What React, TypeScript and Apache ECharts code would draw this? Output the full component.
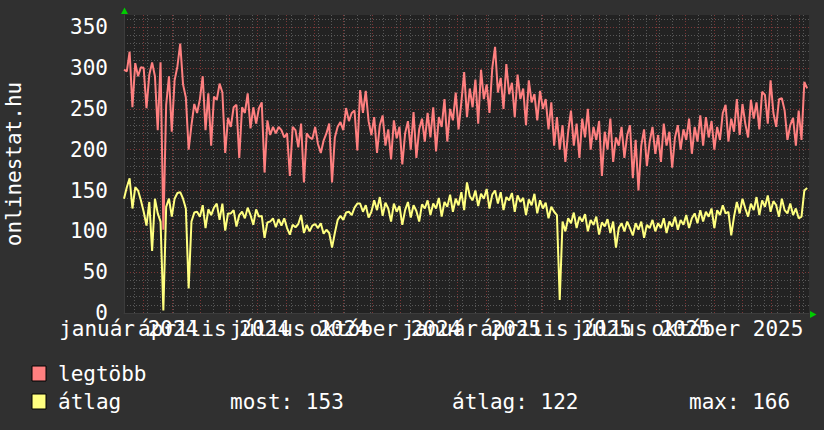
import React, { useEffect, useRef } from "react";
import * as echarts from "echarts";

const FONT = "DejaVu Sans Mono";
const START_UTC = Date.UTC(2023, 11, 11);
const SPAN_DAYS = 731;
const STEP_DAYS = 3;
const LABEL_SHIFT_DAYS = 16;

const quarterLabels = [
  "január 2024", "április 2024", "július 2024", "október 2024",
  "január 2025", "április 2025", "július 2025", "október 2025",
];
const quarterDates: [number, number][] = [
  [2024, 0], [2024, 3], [2024, 6], [2024, 9],
  [2025, 0], [2025, 3], [2025, 6], [2025, 9],
];
const yTickValues = [0, 50, 100, 150, 200, 250, 300, 350];
const seriesNames = ["legtöbb", "átlag"];
const statTexts = ["most: 153", "átlag: 122", "max: 166"];

const legtobb = [
  298, 296, 320, 252, 306, 290, 301, 300, 251, 292,
  307, 290, 224, 307, 102, 255, 290, 222, 285, 302,
  330, 280, 264, 200, 230, 256, 245, 262, 290, 224,
  269, 205, 265, 261, 281, 270, 196, 239, 228, 252,
  255, 190, 252, 245, 269, 226, 252, 232, 251, 258,
  172, 236, 218, 228, 220, 228, 224, 215, 220, 168,
  228, 224, 203, 232, 160, 220, 215, 213, 228, 207,
  196, 211, 220, 232, 160, 215, 228, 234, 224, 251,
  235, 245, 248, 199, 273, 245, 272, 235,
  218, 240, 196, 230, 242, 205, 225, 188, 236, 214,
  228, 182, 220, 235, 200, 246, 190, 225, 238, 210,
  245, 215, 252, 198, 240, 228, 262, 210, 250, 236,
  270, 225, 258, 295, 240, 275, 252, 286, 232, 298,
  262, 280, 245, 300, 326, 270, 288, 250, 305, 268,
  282, 240, 292, 262, 275, 230, 285, 258, 268, 236,
  272, 250, 262, 225, 258, 205, 240, 200, 230, 185,
  222, 248, 205, 232, 190, 238, 215, 250, 200, 228,
  212, 235, 168, 222, 200, 238, 185, 215, 205, 228,
  190, 218, 230, 165, 212, 150, 205, 225, 180, 210,
  228, 195, 218, 185, 232, 205, 222, 178, 215, 230,
  200, 225, 212, 238, 195, 228, 210, 242, 205, 240,
  215, 235, 200, 228, 212, 245, 255, 210, 238, 222,
  262, 218, 256, 232, 215, 261, 238, 258, 225, 271,
  267, 232, 285, 245, 228, 262, 263, 248, 212, 230,
  239, 205, 248, 212, 283, 275,
];

const atlag = [
  140, 154, 165, 128, 154, 150, 138, 124, 107, 136,
  76, 140, 122, 112, 3, 130, 140, 118, 140, 147,
  148, 140, 128, 30, 112, 123, 124, 118, 132, 104,
  127, 120, 129, 134, 114, 134, 101, 122, 122, 126,
  106, 120, 124, 116, 129, 120, 108, 127, 118, 119,
  92, 111, 112, 116, 105, 115, 107, 116, 104, 96,
  108, 105, 109, 120, 98, 108, 100, 107, 109, 104,
  110, 97, 102, 98, 80, 98, 114, 119, 114, 123,
  124, 120, 129, 134, 134, 124, 132, 117,
  124, 138, 126, 142, 119, 135, 128, 112, 134, 124,
  131, 108, 126, 136, 117, 132, 125, 112, 133, 128,
  138, 120, 134, 128, 141, 118, 136, 130, 145, 124,
  140, 132, 148, 126, 160, 143, 138, 150, 131, 146,
  140, 152, 128, 145, 150, 134, 148, 126, 142, 138,
  147, 124, 144, 136, 141, 120, 139, 132, 146, 122,
  138, 128, 135, 116, 130, 124, 120, 16, 112, 100,
  116, 110, 123, 104, 118, 112, 121, 100, 114, 108,
  118, 96, 111, 106, 115, 98, 112, 80, 104, 110,
  100, 112, 104, 95, 110, 102, 112, 92, 108, 104,
  114, 100, 110, 104, 116, 98, 112, 106, 118, 102,
  114, 108, 120, 104, 116, 122, 110, 126, 112, 124,
  118, 128, 104, 126, 120, 132, 122, 124, 95, 118,
  136, 122, 140, 128, 118, 134, 126, 142, 120, 138,
  130, 144, 124, 137, 132, 118, 140, 126, 122, 134,
  120, 128, 116, 118, 150, 153,
];

const dayOf = (y: number, m: number, d = 1) => (Date.UTC(y, m, d) - START_UTC) / 86400000;

export default function App() {
  const ref = useRef<HTMLDivElement>(null);
  useEffect(() => {
    if (!ref.current) return;
    const chart = echarts.init(ref.current, undefined, { renderer: "svg" });

    const monthStarts: number[] = [];
    for (let y = 2024; y <= 2025; y++) {
      for (let m = 0; m < 12; m++) {
        const d = dayOf(y, m);
        if (d >= 0 && d <= SPAN_DAYS) monthStarts.push(d);
      }
    }
    const biweekly: number[] = [];
    for (let d = 11; d <= SPAN_DAYS; d += 14) biweekly.push(d);
    const minorY: number[] = [];
    for (let v = 0; v <= 360; v += 10) minorY.push(v);

    const labelPos = quarterDates.map(([y, m]) => dayOf(y, m) - LABEL_SHIFT_DAYS);
    const labelFor = (v: number) => {
      let best = 0;
      labelPos.forEach((p, i) => {
        if (Math.abs(p - v) < Math.abs(labelPos[best] - v)) best = i;
      });
      return quarterLabels[best];
    };

    const minorLine = { color: "#585858", type: [1, 2], width: 1 };
    const majorLine = { color: "#7c3636", type: [1, 2], width: 1 };

    const toPairs = (arr: number[]) => arr.map((v, i) => [i * STEP_DAYS, v]);
    const font = `21px '${FONT}'`;

    const labelAxis = (values: number[]) => ({
      type: "value", min: 0, max: SPAN_DAYS, position: "bottom",
      axisLine: { show: false },
      axisTick: { show: false, customValues: values },
      axisLabel: {
        show: true, customValues: values, formatter: (v: number) => labelFor(v),
        color: "#ffffff", fontFamily: FONT, fontSize: 21, margin: 5,
        hideOverlap: false, showMinLabel: true, showMaxLabel: true,
      },
      splitLine: { show: false },
    });

    chart.setOption({
      animation: false,
      backgroundColor: "#303030",
      textStyle: { fontFamily: FONT },
      grid: {
        left: 124, top: 15, width: 685, height: 298,
        show: true, backgroundColor: "#222222", borderWidth: 0,
      },
      xAxis: [
        {
          type: "value", min: 0, max: SPAN_DAYS, position: "bottom",
          axisLine: { show: false },
          axisTick: { show: false, customValues: biweekly },
          axisLabel: { show: false },
          splitLine: { show: true, lineStyle: minorLine },
        },
        {
          type: "value", min: 0, max: SPAN_DAYS, position: "bottom",
          axisLine: { show: true, lineStyle: { color: "#3c3c3c", width: 1 } },
          axisTick: { show: false, customValues: monthStarts },
          axisLabel: { show: false },
          splitLine: { show: true, lineStyle: majorLine },
        },
        labelAxis(labelPos.filter((_, i) => i % 2 === 0)),
        labelAxis(labelPos.filter((_, i) => i % 2 === 1)),
      ],
      yAxis: [
        {
          type: "value", min: 0, max: 365, position: "left",
          axisLine: { show: false },
          axisTick: { show: false, customValues: minorY },
          axisLabel: { show: false },
          splitLine: { show: true, lineStyle: minorLine },
        },
        {
          type: "value", min: 0, max: 365, position: "left",
          axisLine: { show: true, lineStyle: { color: "#3c3c3c", width: 1 } },
          axisTick: { show: false, customValues: yTickValues },
          axisLabel: {
            show: true, customValues: yTickValues, showMinLabel: true, showMaxLabel: true,
            color: "#ffffff", fontFamily: FONT, fontSize: 21, margin: 16,
          },
          splitLine: { show: true, lineStyle: majorLine },
        },
      ],
      series: [
        {
          name: seriesNames[0], type: "line", xAxisIndex: 1, yAxisIndex: 1,
          data: toPairs(legtobb), showSymbol: false,
          lineStyle: { color: "#ff8080", width: 2 }, itemStyle: { color: "#ff8080" },
        },
        {
          name: seriesNames[1], type: "line", xAxisIndex: 1, yAxisIndex: 1,
          data: toPairs(atlag), showSymbol: false,
          lineStyle: { color: "#ffff80", width: 2 }, itemStyle: { color: "#ffff80" },
        },
      ],
      graphic: [
        {
          type: "text", x: 14, y: 164, rotation: Math.PI / 2,
          style: {
            text: "onlinestat.hu", fill: "#ffffff", font,
            align: "center", verticalAlign: "middle",
          },
        },
        { type: "polygon", shape: { points: [[121, 14], [128, 14], [124.5, 7.5]] }, style: { fill: "#00cc00" } },
        { type: "polygon", shape: { points: [[810, 311], [810, 318], [816.5, 314.5]] }, style: { fill: "#00cc00" } },
        { type: "rect", shape: { x: 32, y: 366, width: 14, height: 15 }, style: { fill: "#ff8080", stroke: "#000000", lineWidth: 1 } },
        { type: "rect", shape: { x: 32, y: 394, width: 14, height: 15 }, style: { fill: "#ffff80", stroke: "#000000", lineWidth: 1 } },
        { type: "text", x: 58, y: 374, style: { text: seriesNames[0], fill: "#ffffff", font, verticalAlign: "middle" } },
        { type: "text", x: 58, y: 402, style: { text: seriesNames[1], fill: "#ffffff", font, verticalAlign: "middle" } },
        { type: "text", x: 230, y: 402, style: { text: statTexts[0], fill: "#ffffff", font, verticalAlign: "middle" } },
        { type: "text", x: 452, y: 402, style: { text: statTexts[1], fill: "#ffffff", font, verticalAlign: "middle" } },
        { type: "text", x: 689, y: 402, style: { text: statTexts[2], fill: "#ffffff", font, verticalAlign: "middle" } },
      ],
    });
    return () => chart.dispose();
  }, []);
  return <div ref={ref} style={{ position: "fixed", left: 0, top: 0, width: 824, height: 430 }} />;
}
